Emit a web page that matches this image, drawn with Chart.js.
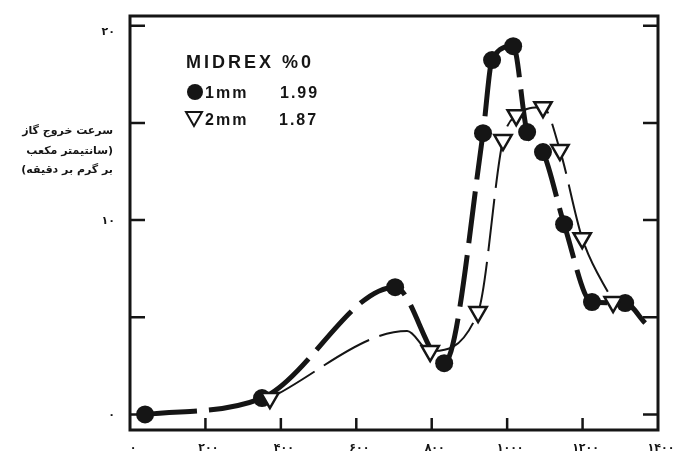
<!DOCTYPE html>
<html><head><meta charset="utf-8">
<script src="https://cdn.jsdelivr.net/npm/chart.js@4"></script>
<style>html,body{margin:0;padding:0;background:#fff}#wrap{width:685px;height:456px}</style>
</head><body><div id="wrap"><canvas id="c" width="685" height="456"></canvas></div>
<script>
// ---- data ----
const oneMmX = [40, 350, 703, 833, 936, 960, 1016, 1053, 1095, 1151, 1225, 1313, 1366];
const oneMmY = [0, 0.84, 6.55, 2.64, 14.47, 18.23, 18.95, 14.53, 13.5, 9.79, 5.78, 5.73, 4.7];
const oneMmMarked = [1, 1, 1, 1, 1, 1, 1, 1, 1, 1, 1, 1, 0];
const twoMmX = [371, 735, 796, 923, 989, 1024, 1095, 1140, 1199, 1281];
const twoMmY = [0.84, 4.29, 3.26, 5.27, 14.12, 15.4, 15.81, 13.6, 9.07, 5.78];
const twoMmMarked = [1, 0, 1, 1, 1, 1, 1, 1, 1, 1];
const xTickValues = [0, 200, 400, 600, 800, 1000, 1200, 1400];
const xTickLabels = ['۰', '۲۰۰', '۴۰۰', '۶۰۰', '۸۰۰', '۱۰۰۰', '۱۲۰۰', '۱۴۰۰'];
const yTickValues = [0, 5, 10, 15, 20];
const yTickLabels = ['۰', '', '۱۰', '', '۲۰'];
const yTitleLines = ['سرعت خروج گاز', '(سانتیمتر مکعب', 'بر گرم بر دقیقه)'];
const legendTitle = 'MIDREX %0';
const seriesNames = ['1mm', '2mm'];
const seriesValues = ['1.99', '1.87'];

const INK = '#151515';

const framePlugin = {
  id: 'frame',
  beforeDatasetsDraw(chart) {
    const {ctx, chartArea: a, scales: {x, y}} = chart;
    ctx.save();
    ctx.strokeStyle = INK;
    ctx.lineWidth = 3;
    ctx.strokeRect(a.left, a.top, a.right - a.left, a.bottom - a.top);
    ctx.lineWidth = 2.5;
    yTickValues.forEach(v => {
      const py = y.getPixelForValue(v);
      ctx.beginPath();
      ctx.moveTo(a.left, py); ctx.lineTo(a.left + 15, py);
      ctx.moveTo(a.right, py); ctx.lineTo(a.right - 15, py);
      ctx.stroke();
    });
    xTickValues.forEach(v => {
      if (v === xTickValues[0] || v === xTickValues[xTickValues.length - 1]) return;
      const px = x.getPixelForValue(v);
      ctx.beginPath();
      ctx.moveTo(px, a.bottom); ctx.lineTo(px, a.bottom - 12);
      ctx.stroke();
    });
    ctx.restore();
  },
  afterDraw(chart) {
    const {ctx, chartArea: a, scales: {x, y}} = chart;
    ctx.save();
    ctx.fillStyle = INK;
    // x tick labels
    ctx.font = 'bold 11px "DejaVu Sans"';
    ctx.textAlign = 'center';
    ctx.textBaseline = 'middle';
    ctx.letterSpacing = '1px';
    xTickValues.forEach((v, i) => {
      ctx.fillText(xTickLabels[i], x.getPixelForValue(v) + 3, a.bottom + 18);
    });
    // y tick labels
    ctx.textAlign = 'right';
    yTickValues.forEach((v, i) => {
      if (!yTickLabels[i]) return;
      ctx.fillText(yTickLabels[i], a.left - 15, y.getPixelForValue(v) + (v === 20 ? 6 : 1));
    });
    // y title
    ctx.letterSpacing = '0px';
    ctx.font = 'bold 11px "DejaVu Sans"';
    ctx.direction = 'rtl';
    ctx.textAlign = 'right';
    const ys = [131, 151, 170];
    yTitleLines.forEach((t, i) => ctx.fillText(t, 113, ys[i]));
    ctx.direction = 'ltr';
    // legend block
    ctx.textAlign = 'left';
    ctx.textBaseline = 'alphabetic';
    ctx.font = 'bold 18px "Liberation Sans"';
    ctx.letterSpacing = '3px';
    ctx.fillText(legendTitle, 186, 68);
    ctx.font = 'bold 16px "Liberation Sans"';
    ctx.letterSpacing = '2px';
    ctx.fillText(seriesNames[0], 205, 98);
    ctx.fillText(seriesValues[0], 280, 98);
    ctx.fillText(seriesNames[1], 205, 125);
    ctx.fillText(seriesValues[1], 279, 125);
    // legend glyphs
    ctx.beginPath();
    ctx.arc(195, 92, 8, 0, Math.PI * 2);
    ctx.fill();
    ctx.beginPath();
    ctx.moveTo(186, 112); ctx.lineTo(202, 112); ctx.lineTo(194, 126); ctx.closePath();
    ctx.lineWidth = 2;
    ctx.strokeStyle = INK;
    ctx.stroke();
    ctx.restore();
  }
};

new Chart(document.getElementById('c'), {
  type: 'line',
  data: {
    datasets: [
      {
        label: seriesNames[1],
        data: twoMmX.map((v, i) => ({x: v, y: twoMmY[i]})),
        order: 1,
        borderColor: INK,
        borderWidth: 2,
        borderDash: [52, 11],
        cubicInterpolationMode: 'monotone',
        pointStyle: 'triangle',
        rotation: 180,
        pointRadius: c => twoMmMarked[c.dataIndex] ? 10 : 0,
        pointBackgroundColor: '#fff',
        pointBorderColor: INK,
        pointBorderWidth: 2.5,
        fill: false
      },
      {
        label: seriesNames[0],
        data: oneMmX.map((v, i) => ({x: v, y: oneMmY[i]})),
        order: 2,
        borderColor: INK,
        borderWidth: 5,
        borderDash: [52, 12],
        cubicInterpolationMode: 'monotone',
        pointStyle: 'circle',
        pointRadius: c => oneMmMarked[c.dataIndex] ? 9 : 0,
        pointBackgroundColor: INK,
        pointBorderColor: INK,
        pointBorderWidth: 0,
        fill: false
      }
    ]
  },
  options: {
    responsive: false,
    animation: false,
    devicePixelRatio: 1,
    layout: {padding: {left: 130, right: 27, top: 16, bottom: 26}},
    plugins: {legend: {display: false}, tooltip: {enabled: false}},
    scales: {
      x: {type: 'linear', min: 0, max: 1400, display: false},
      y: {type: 'linear', min: -0.8, max: 20.5, display: false}
    }
  },
  plugins: [framePlugin]
});
</script></body></html>
